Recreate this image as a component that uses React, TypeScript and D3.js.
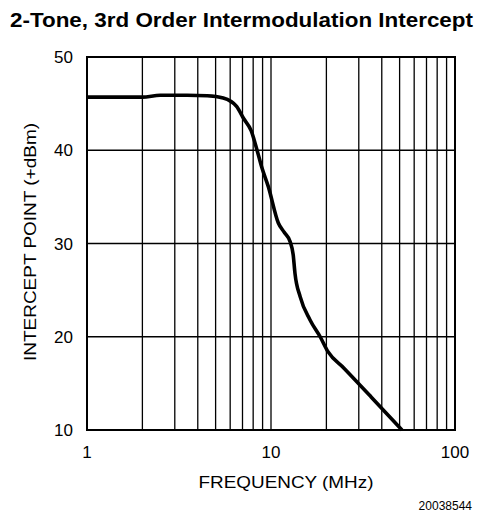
import React from "react";
import * as d3 from "d3";

const freqMHz = [1, 2, 2.5, 3.5, 4.5, 5.5, 6.5, 7.1, 7.8, 8.4, 8.9, 9.67, 10.96, 11.8, 12.7, 13.2, 13.5, 14.4, 16.3, 18.5, 20.4, 25, 35, 51.5];
const interceptDbm = [45.7, 45.7, 45.9, 45.9, 45.85, 45.6, 44.7, 43.4, 42.1, 40.0, 38.2, 36.1, 32.2, 31.2, 30.2, 28.8, 26.8, 24.3, 21.8, 20.0, 18.4, 16.6, 13.55, 10.0];

const yTicks = [10, 20, 30, 40, 50];
const xTickLabels = [1, 10, 100];
const title = "2-Tone, 3rd Order Intermodulation Intercept";
const xLabel = "FREQUENCY (MHz)";
const yLabel = "INTERCEPT POINT (+dBm)";
const figId = "20038544";

const W = 480, H = 520;
const left = 87, right = 455, top = 57, bottom = 430;
const font = "'Liberation Sans', Arial, Helvetica, sans-serif";

export default function App() {
  const x = d3.scaleLog().domain([1, 100]).range([left, right]);
  const y = d3.scaleLinear().domain([10, 50]).range([bottom, top]);

  const gridX: number[] = [];
  for (let dec = 1; dec < 100; dec *= 10) {
    for (let k = 2; k <= 9; k++) gridX.push(k * dec);
  }
  gridX.push(10);

  const pts = freqMHz.map((f, i) => [f, interceptDbm[i]] as [number, number]);
  const line = d3
    .line<[number, number]>()
    .x((d) => x(d[0]))
    .y((d) => y(d[1]))
    .curve(d3.curveMonotoneX);

  return (
    <svg width={W} height={H} style={{ position: "absolute", left: 0, top: 0, background: "#fff" }} fontFamily={font}>
      <rect x={0} y={0} width={W} height={H} fill="#fff" />
      <text x={10} y={27} fontSize={21} fontWeight="bold" textLength={463} lengthAdjust="spacingAndGlyphs">{title}</text>
      {gridX.map((g) => (
        <line key={"gx" + g} x1={x(g)} x2={x(g)} y1={top} y2={bottom} stroke="#000" strokeWidth={1.3} />
      ))}
      {yTicks.map((t) => (
        <line key={"gy" + t} x1={left} x2={right} y1={y(t)} y2={y(t)} stroke="#000" strokeWidth={1.3} />
      ))}
      <rect x={left} y={top} width={right - left} height={bottom - top} fill="none" stroke="#000" strokeWidth={2} />
      <path d={line(pts) || ""} fill="none" stroke="#000" strokeWidth={3.6} strokeLinejoin="round" strokeLinecap="butt" />
      {yTicks.map((t) => (
        <text key={"ty" + t} x={73} y={y(t) + 6} fontSize={17} textAnchor="end">{t}</text>
      ))}
      {xTickLabels.map((t) => (
        <text key={"tx" + t} x={x(t)} y={458} fontSize={17} textAnchor="middle">{t}</text>
      ))}
      <text x={286} y={488} fontSize={17} textAnchor="middle" textLength={175} lengthAdjust="spacingAndGlyphs">{xLabel}</text>
      <text transform={`translate(36, 242) rotate(-90)`} fontSize={17} textAnchor="middle" textLength={238} lengthAdjust="spacingAndGlyphs">{yLabel}</text>
      <text x={472} y={510} fontSize={12} textAnchor="end">{figId}</text>
    </svg>
  );
}
